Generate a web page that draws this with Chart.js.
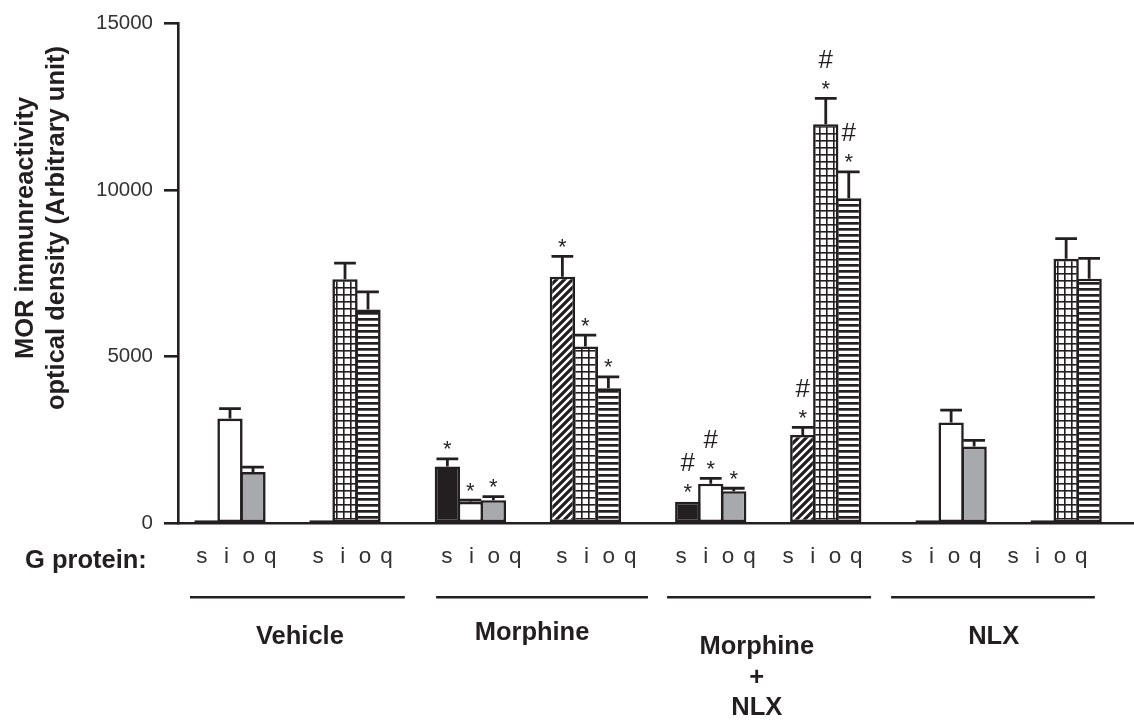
<!DOCTYPE html>
<html>
<head>
<meta charset="utf-8">
<script src="https://cdn.jsdelivr.net/npm/chart.js@4.4.1/dist/chart.umd.min.js"></script>
<style>
  html, body { margin: 0; padding: 0; background: #ffffff; }
  #wrap { width: 1134px; height: 720px; }
</style>
</head>
<body>
<div id="wrap"><canvas id="c" width="1134" height="720"></canvas></div>
<script>
// ---- data -------------------------------------------------------------
const treatments = ['Vehicle', 'Morphine', 'Morphine\n+\nNLX', 'NLX'];
const gProteins = ['s', 'i', 'o', 'q'];
const yTicks = [0, 5000, 10000, 15000];

// first set of bars in each treatment group (solid / open / grey)
const set1S = [0, 1705, 643, 0];
const set1I = [3143, 643, 1190, 3024];
const set1O = [1536, 693, 961, 2301];
// second set of bars (hatched / cross-hatched / striped)
const set2S = [0, 7399, 2649, 0];
const set2I = [7321, 5307, 11973, 7935];
const set2O = [6417, 4048, 9750, 7339];

// standard errors
const set1SErr = [0, 229, 0, 0];
const set1IErr = [297, 50, 158, 369];
const set1OErr = [149, 110, 90, 187];
const set2SErr = [0, 607, 226, 0];
const set2IErr = [485, 336, 774, 607];
const set2OErr = [527, 345, 795, 607];

// significance: * vs vehicle, # vs morphine
const set1SSig = ['', '*', '*#', ''];
const set1ISig = ['', '*', '*#', ''];
const set1OSig = ['', '*', '*', ''];
const set2SSig = ['', '*', '*#', ''];
const set2ISig = ['', '*', '*#', ''];
const set2OSig = ['', '*', '*#', ''];

// ---- layout on the x scale (one unit = one bar) -------------------------
const SET_STEP = 5;
const GROUP_STEP = 10.45;
const X_MIN = -1.26, X_MAX = 40.3;
// where each "s i o q" row starts, and the spacing of its letters
const LETTER_ROW_START = [-0.22, 4.83, 10.43, 15.43, 20.61, 25.26, 30.43, 35.04];
const LETTER_OFF = [0, 1.07, 2.04, 2.97];
// rule under each treatment group, and the centre of its caption
const RULE_SPAN = [[-0.74, 8.6], [9.96, 19.17], [20.0, 28.87], [29.74, 38.6]];
const CAPTION_X = [4.04, 14.13, 23.9, 34.2];

const barPos = (g, set, k) => g * GROUP_STEP + set * SET_STEP + k;
const letterPos = [];
LETTER_ROW_START.forEach(start => {
  LETTER_OFF.forEach(off => letterPos.push(start + off));
});

// ---- styles -------------------------------------------------------------
const DARK = '#231f20';
const GREY = '#a7a9ac';
const FONT = '"Liberation Sans", Arial, Helvetica, sans-serif';
const canvas = document.getElementById('c');
const ctx = canvas.getContext('2d');

function tile(size, paint) {
  const t = document.createElement('canvas');
  t.width = t.height = size;
  paint(t.getContext('2d'), size);
  return ctx.createPattern(t, 'repeat');
}
const diagonal = tile(8, (g, s) => {
  g.fillStyle = DARK; g.fillRect(0, 0, s, s);
  g.strokeStyle = '#ffffff'; g.lineWidth = 2.4;
  g.beginPath();
  g.moveTo(-4, 4); g.lineTo(4, -4);
  g.moveTo(0, s); g.lineTo(s, 0);
  g.moveTo(4, 12); g.lineTo(12, 4);
  g.stroke();
});
const crossHatch = tile(7, (g, s) => {
  g.fillStyle = '#ffffff'; g.fillRect(0, 0, s, s);
  g.fillStyle = DARK;
  g.fillRect(0, 0, s, 1.6);
  g.fillRect(0, 0, 1.6, s);
});
const stripes = tile(6, (g, s) => {
  g.fillStyle = '#ffffff'; g.fillRect(0, 0, s, s);
  g.fillStyle = DARK; g.fillRect(0, 0, s, 2.7);
});

const series = [
  { label: 'Gs', vals: set1S, err: set1SErr, sig: set1SSig, set: 0, k: 0, fill: DARK },
  { label: 'Gi', vals: set1I, err: set1IErr, sig: set1ISig, set: 0, k: 1, fill: '#ffffff' },
  { label: 'Go', vals: set1O, err: set1OErr, sig: set1OSig, set: 0, k: 2, fill: GREY },
  { label: 'Gs', vals: set2S, err: set2SErr, sig: set2SSig, set: 1, k: 0, fill: diagonal },
  { label: 'Gi', vals: set2I, err: set2IErr, sig: set2ISig, set: 1, k: 1, fill: crossHatch },
  { label: 'Go', vals: set2O, err: set2OErr, sig: set2OSig, set: 1, k: 2, fill: stripes }
];

const datasets = series.map(s => ({
  label: s.label,
  xAxisID: 'x',
  data: s.vals.map((v, g) => ({ x: barPos(g, s.set, s.k), y: v })),
  errors: s.err,
  marks: s.sig,
  backgroundColor: s.fill,
  borderColor: DARK,
  borderWidth: 2.6,
  borderSkipped: false,
  minBarLength: 3,
  grouped: false,
  barPercentage: 1.1,
  categoryPercentage: 1
}));

// error bars and significance symbols above each bar
const errorBars = {
  id: 'errorBars',
  afterDatasetsDraw(chart) {
    const c = chart.ctx, yS = chart.scales.y;
    c.save();
    chart.data.datasets.forEach((ds, di) => {
      chart.getDatasetMeta(di).data.forEach((bar, j) => {
        const v = ds.data[j].y, e = ds.errors[j];
        let capY = yS.getPixelForValue(v);
        c.strokeStyle = DARK; c.lineWidth = 2.8; c.lineCap = 'butt';
        if (e > 0) {
          const top = capY;
          capY = yS.getPixelForValue(v + e);
          const half = bar.width * 0.43;
          c.beginPath();
          c.moveTo(bar.x, top); c.lineTo(bar.x, capY);
          c.moveTo(bar.x - half, capY); c.lineTo(bar.x + half, capY);
          c.stroke();
        }
        const m = ds.marks[j];
        c.fillStyle = DARK; c.textAlign = 'center'; c.textBaseline = 'alphabetic';
        const starC = capY - 15;
        if (m.includes('*')) {
          c.font = '22px ' + FONT;
          c.fillText('*', bar.x, starC + 12.5);
        }
        if (m.includes('#')) {
          c.font = '26px ' + FONT;
          c.fillText('#', bar.x, starC - 25 + 9.3);
        }
      });
    });
    c.restore();
  }
};

// group rules, treatment names, row caption and y-axis title
const captions = {
  id: 'captions',
  afterDraw(chart) {
    const c = chart.ctx, xS = chart.scales.x;
    c.save();
    c.fillStyle = DARK; c.strokeStyle = DARK;
    treatments.forEach((name, g) => {
      const x0 = xS.getPixelForValue(RULE_SPAN[g][0]);
      const x1 = xS.getPixelForValue(RULE_SPAN[g][1]);
      c.lineWidth = 2.6;
      c.beginPath(); c.moveTo(x0, 597.3); c.lineTo(x1, 597.3); c.stroke();
      c.font = 'bold 25.5px ' + FONT;
      c.textAlign = 'center'; c.textBaseline = 'alphabetic';
      const lines = name.split('\n');
      const cx = xS.getPixelForValue(CAPTION_X[g]);
      if (lines.length === 1) {
        c.fillText(name, cx, g === 1 ? 639.5 : 643.5);
      } else {
        lines.forEach((ln, i) => c.fillText(ln, cx, 654 + i * 30.5));
      }
    });
    c.font = 'bold 25.5px ' + FONT;
    c.textAlign = 'left';
    c.fillText('G protein:', 25, 568);
    // rotated axis title
    c.textAlign = 'center';
    [['MOR immunreactivity', 33], ['optical density (Arbitrary unit)', 63.5]].forEach(([t, bx]) => {
      c.save();
      c.translate(bx, 228);
      c.rotate(-Math.PI / 2);
      c.fillText(t, 0, 0);
      c.restore();
    });
    c.restore();
  }
};

new Chart(canvas, {
  type: 'bar',
  data: { datasets },
  options: {
    responsive: false,
    devicePixelRatio: 1,
    animation: false,
    layout: { padding: { top: 19.3, left: 0, right: 0, bottom: 0 } },
    plugins: { legend: { display: false }, tooltip: { enabled: false } },
    scales: {
      x: {
        type: 'linear', position: 'bottom', weight: 0,
        min: X_MIN, max: X_MAX, offset: false,
        afterBuildTicks: s => { s.ticks = [{ value: 0 }]; },
        afterFit: s => { s.height = 0; },
        ticks: { display: false },
        grid: { display: false, drawTicks: false },
        border: { display: true, color: DARK, width: 2.6 }
      },
      xl: {
        type: 'linear', position: 'bottom', weight: 1,
        min: X_MIN, max: X_MAX, offset: false,
        afterBuildTicks: s => { s.ticks = letterPos.map(v => ({ value: v })); },
        afterFit: s => { s.height = 720 - 523.3; },
        ticks: {
          autoSkip: false, maxRotation: 0, minRotation: 0, padding: 20,
          color: '#333333', font: { family: FONT, size: 22.5 },
          callback: (v, i) => gProteins[i % 4]
        },
        grid: { display: false, drawTicks: false },
        border: { display: false }
      },
      y: {
        min: 0, max: 15000,
        afterBuildTicks: s => { s.ticks = yTicks.map(v => ({ value: v })); },
        afterFit: s => { s.width = 178; },
        grid: { drawOnChartArea: false, drawTicks: true, tickLength: 14, color: DARK, lineWidth: 2.6 },
        border: { display: true, color: DARK, width: 2.6 },
        ticks: { padding: 11, color: '#333333', font: { family: FONT, size: 20.5 }, callback: v => String(v) }
      }
    }
  },
  plugins: [errorBars, captions]
});
</script>
</body>
</html>
